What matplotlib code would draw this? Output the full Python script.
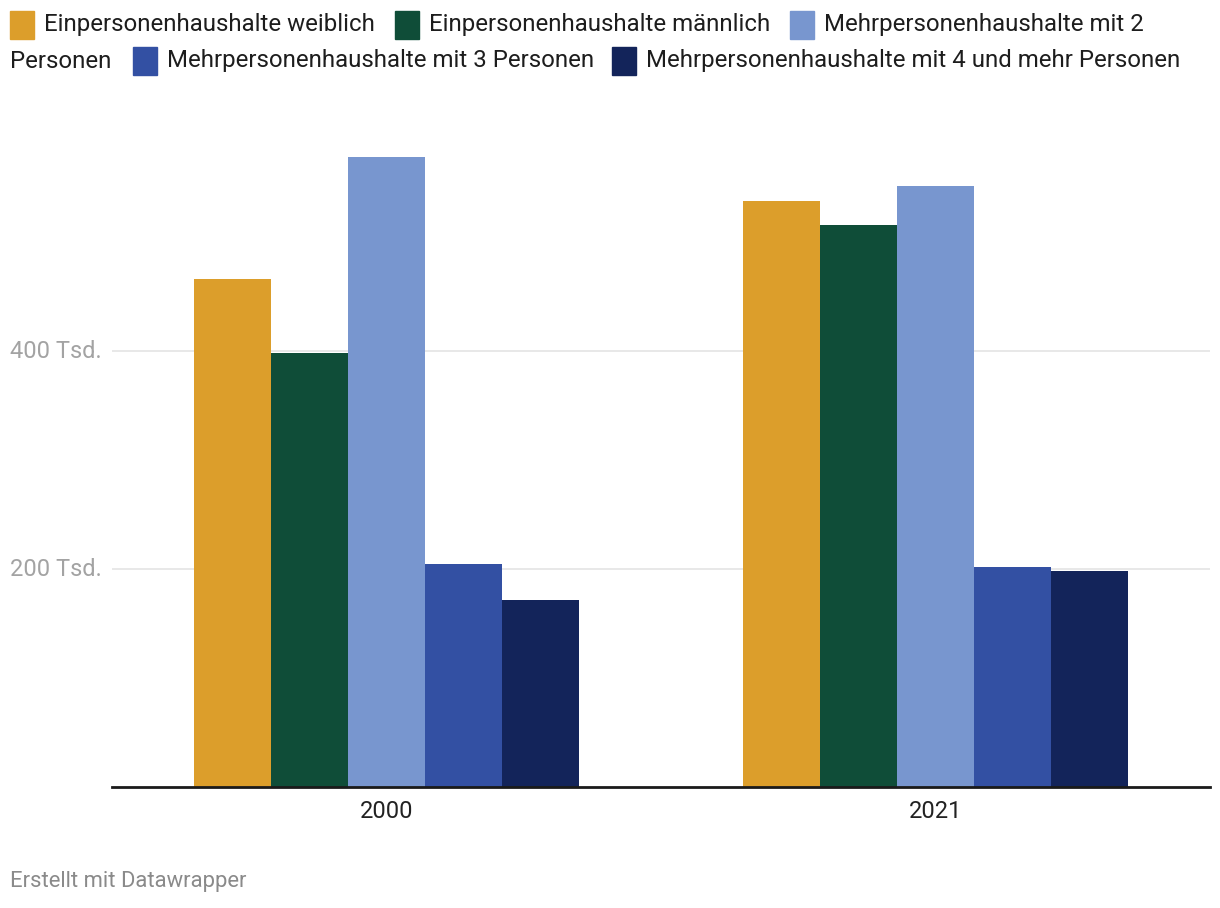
import matplotlib.pyplot as plt
import numpy as np
from matplotlib.patches import Rectangle

plt.rcParams['font.family'] = ['Roboto', 'DejaVu Sans']

years = ['2000', '2021']
series = ['Einpersonenhaushalte weiblich',
          'Einpersonenhaushalte männlich',
          'Mehrpersonenhaushalte mit 2 Personen',
          'Mehrpersonenhaushalte mit 3 Personen',
          'Mehrpersonenhaushalte mit 4 und mehr Personen']
# Werte in Tsd.
w_einzel = [466, 538]
m_einzel = [398, 516]
mehr_2 = [578, 551]
mehr_3 = [205, 202]
mehr_4 = [172, 198]
values = [w_einzel, m_einzel, mehr_2, mehr_3, mehr_4]
colors = ['#dc9e2b', '#0f4d38', '#7896cf', '#3350a3', '#13245a']
yticks = [200, 400]
ytick_labels = ['200 Tsd.', '400 Tsd.']

W, H = 1220, 908
fig = plt.figure(figsize=(W / 100, H / 100), dpi=100)
ax = fig.add_axes([112 / W, 1 - 787 / H, (1210 - 112) / W, (787 - 133) / H])

x = np.arange(len(years))
bw = 0.14
for i, (vals, c) in enumerate(zip(values, colors)):
    ax.bar(x + (i - 2) * bw, vals, bw, color=c, zorder=3)

ax.set_xlim(-0.5, 1.5)
ax.set_ylim(0, 600)
for s in ax.spines.values():
    s.set_visible(False)
ax.axhline(0, color='#1a1a1a', lw=2, zorder=4, clip_on=False)
for t in yticks:
    ax.axhline(t, color='#e6e6e6', lw=1.3, zorder=1)
ax.set_yticks([])
ax.set_xticks(x)
ax.set_xticklabels(years, fontsize=17, color='#222222')
ax.tick_params(axis='x', length=0, pad=9)

for t, lab in zip(yticks, ytick_labels):
    ypx = 787 - t * 1.09
    fig.text(10 / W, 1 - ypx / H, lab, fontsize=17, color='#a3a3a3', va='center', ha='left')

# Legende
legend_items = [
    (10, 25, 0, series[0]),
    (395, 25, 1, series[1]),
    (790, 25, 2, 'Mehrpersonenhaushalte mit 2'),
    (133, 61, 3, series[3]),
    (612, 61, 4, series[4]),
]
for px, py, ci, lab in legend_items:
    fig.patches.append(Rectangle((px / W, 1 - (py + 14) / H), 24 / W, 28 / H,
                                 transform=fig.transFigure, color=colors[ci]))
    fig.text((px + 34) / W, 1 - py / H, lab, fontsize=17.3, color='#1d1d1d', va='center', ha='left')
fig.text(10 / W, 1 - 61 / H, 'Personen', fontsize=17.3, color='#1d1d1d', va='center', ha='left')

fig.text(10 / W, 1 - 882 / H, 'Erstellt mit Datawrapper', fontsize=15.8, color='#8a8a8a', va='center', ha='left')

fig.savefig('out.png', dpi=100)
